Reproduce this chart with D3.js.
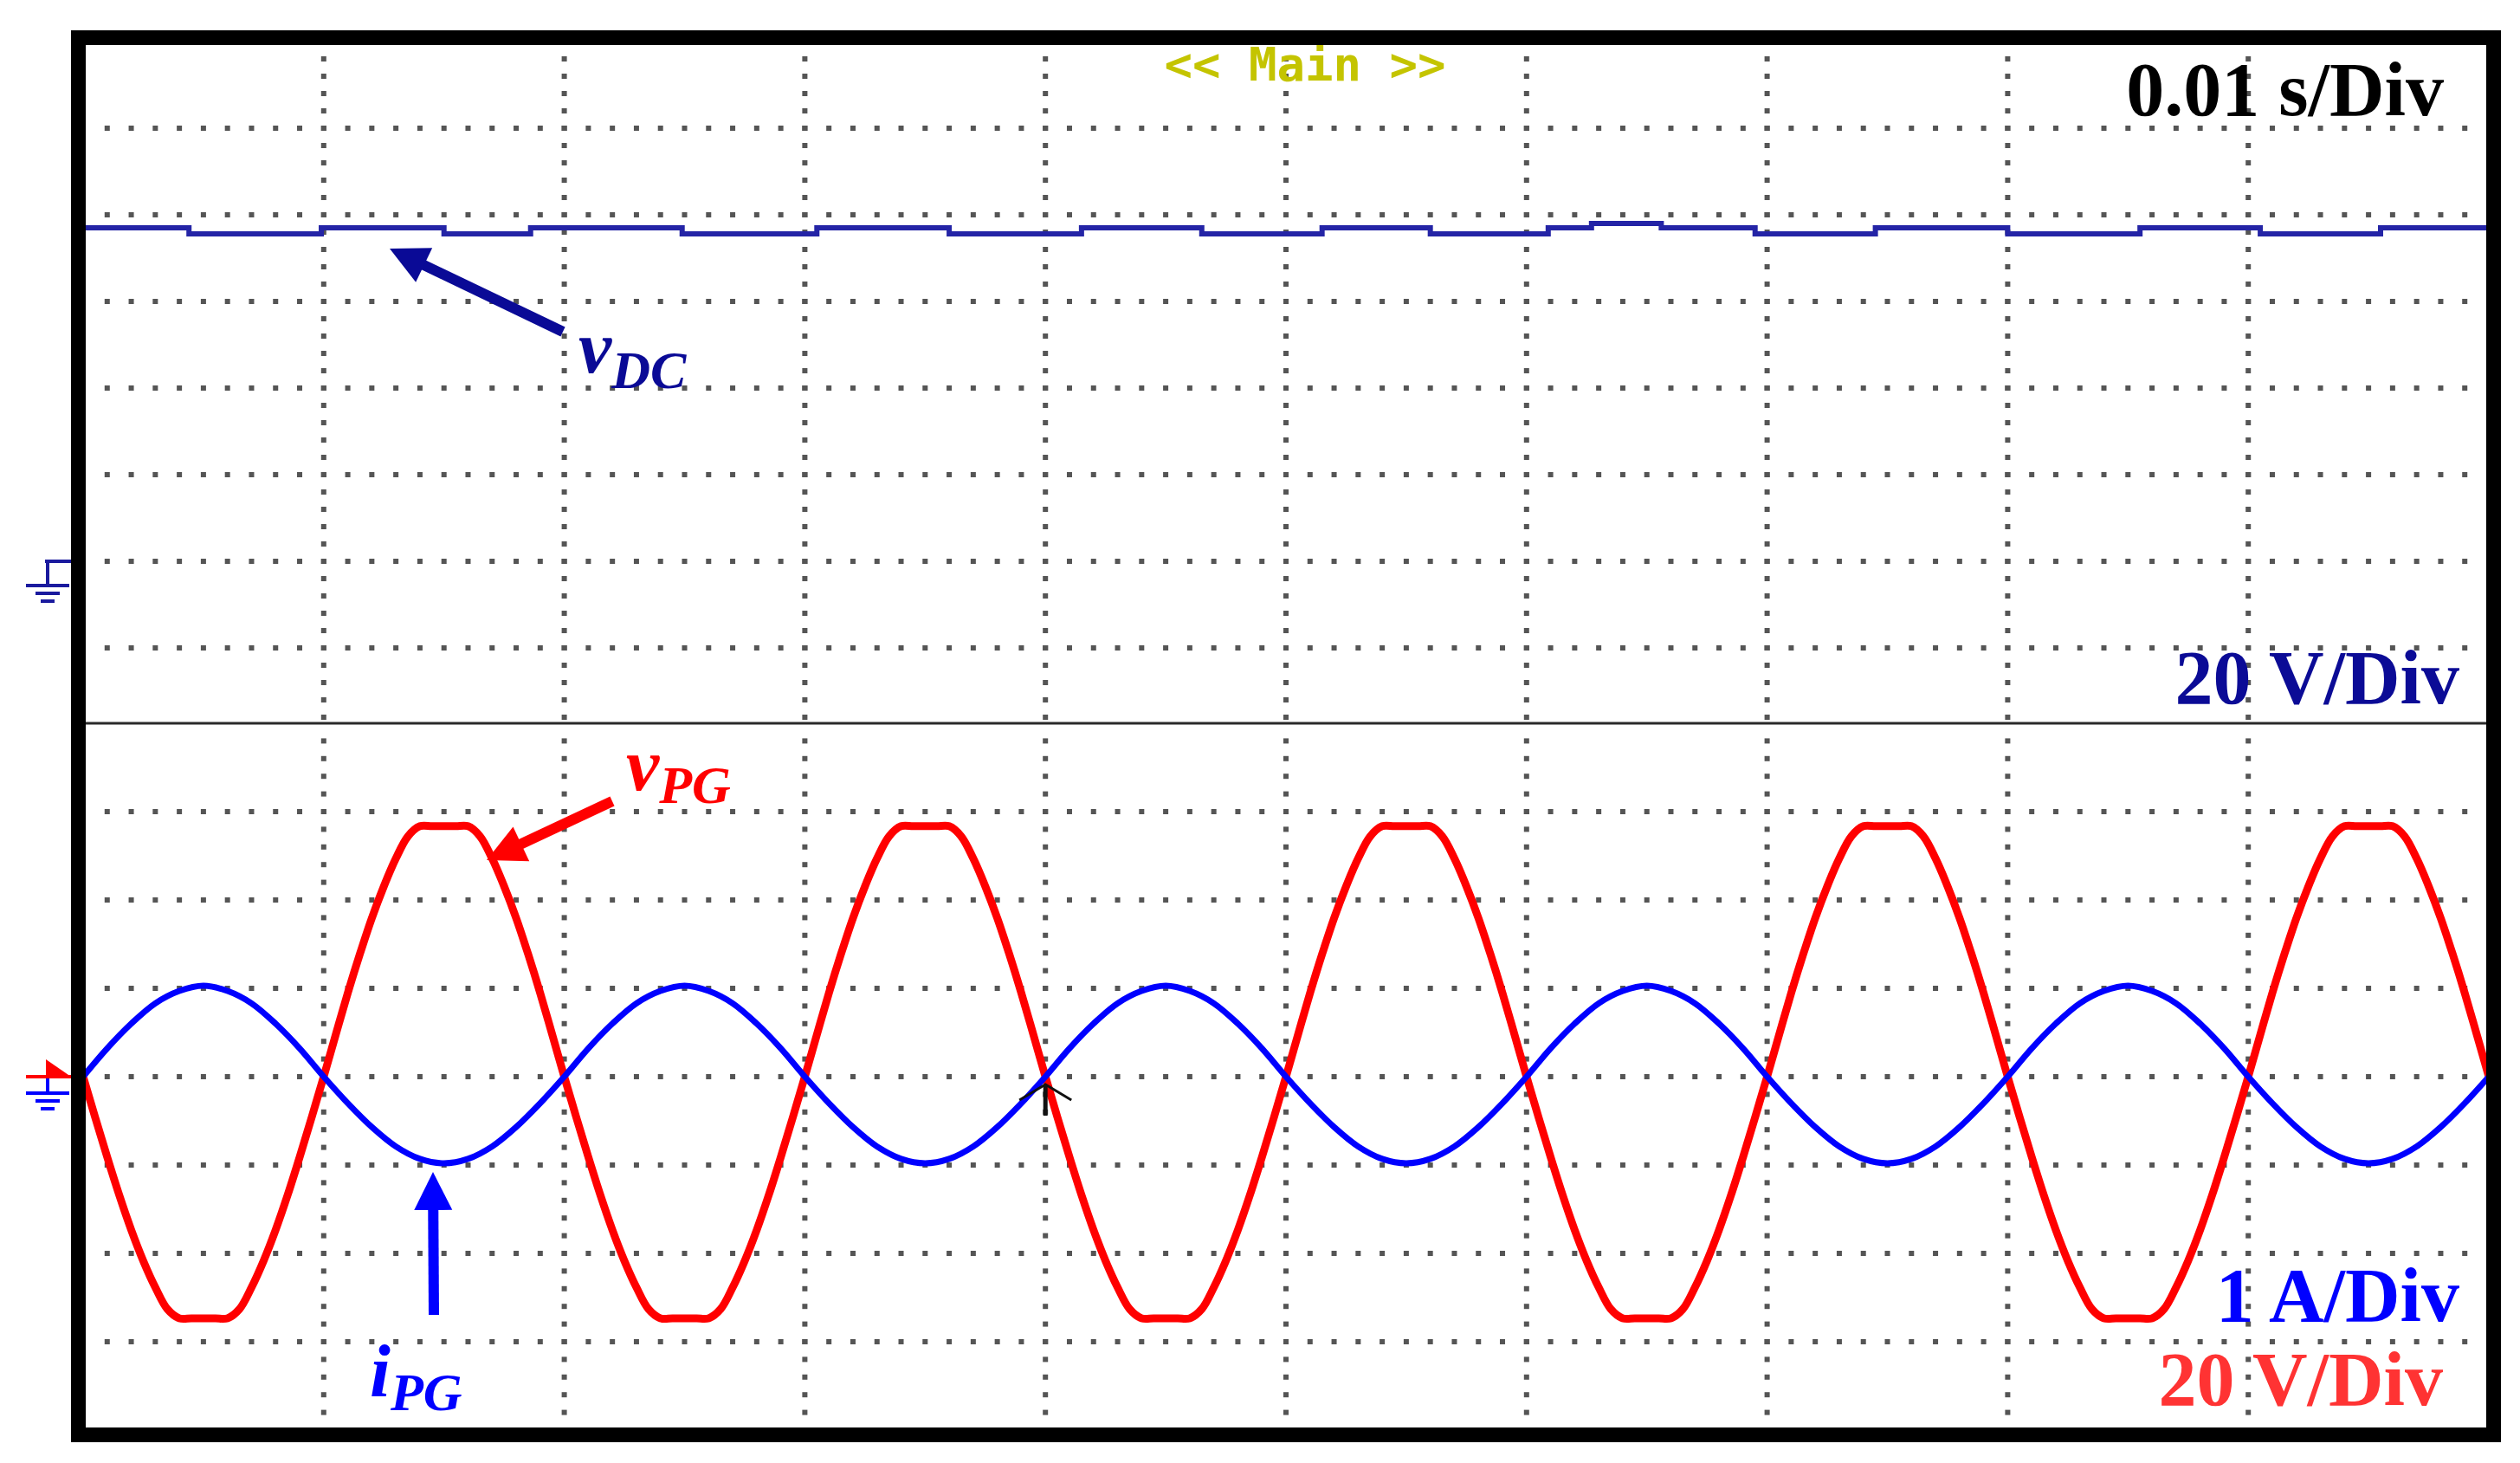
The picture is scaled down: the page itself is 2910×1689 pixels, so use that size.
<!DOCTYPE html>
<html lang="en">
<head>
<meta charset="UTF-8">
<title>vDC / vPG / iPG scope capture</title>
<script src="https://d3js.org/d3.v7.min.js"></script>
<style>
  body { margin: 0; background: #fff; }
  .dot { fill: #555; }
  .lbl { font-family: "Liberation Serif", "Times New Roman", serif; font-weight: bold; }
  .sig { font-family: "Liberation Serif", "Times New Roman", serif; font-weight: bold; font-style: italic; }
</style>
</head>
<body>
<div id="chart"></div>
<script>
// ---- data (read off the scope capture) ----
// time base 0.01 s/div, 10 divisions
const timeDivs = [0, 1, 2, 3, 4, 5, 6, 7, 8, 9, 10];
// top window grid rows (V, 20 V/div) and bottom window rows (div)
const topRows = [-20, 0, 20, 40, 60, 80, 100, 120];
const botRows = [-4, -3, -2, -1, 0, 1, 2, 3, 4];

// vDC: stepped trace, step instants in ms and level in V
const vdcTimes  = [0, 4.4, 9.9, 15.0, 18.6, 24.9, 30.5, 36.0, 41.5, 46.5, 51.5, 56.0, 60.9, 62.7, 65.6, 69.5, 74.5, 80.0, 85.5, 90.5, 95.5, 100];
const vdcValues = [77.0, 75.6, 77.0, 75.6, 77.0, 75.6, 77.0, 75.6, 77.0, 75.6, 77.0, 75.6, 77.0, 78.0, 77.0, 75.6, 77.0, 75.6, 77.0, 75.6, 77.0, 77.0];

// iPG in A, sampled every 1 ms from 0 to 100 ms
const ipgValues = [
  0, 0.32, 0.60, 0.83, 0.97, 1.03, 0.97, 0.83, 0.60, 0.32,
  0, -0.30, -0.57, -0.79, -0.93, -0.98, -0.93, -0.79, -0.57, -0.30,
  0, 0.32, 0.60, 0.83, 0.97, 1.03, 0.97, 0.83, 0.60, 0.32,
  0, -0.30, -0.57, -0.79, -0.93, -0.98, -0.93, -0.79, -0.57, -0.30,
  0, 0.32, 0.60, 0.83, 0.97, 1.03, 0.97, 0.83, 0.60, 0.32,
  0, -0.30, -0.57, -0.79, -0.93, -0.98, -0.93, -0.79, -0.57, -0.30,
  0, 0.32, 0.60, 0.83, 0.97, 1.03, 0.97, 0.83, 0.60, 0.32,
  0, -0.30, -0.57, -0.79, -0.93, -0.98, -0.93, -0.79, -0.57, -0.30,
  0, 0.32, 0.60, 0.83, 0.97, 1.03, 0.97, 0.83, 0.60, 0.32,
  0, -0.30, -0.57, -0.79, -0.93, -0.98, -0.93, -0.79, -0.57, -0.30,
  0
];

// vPG in V, sampled every 0.5 ms from 0 to 100 ms
const vpgValues = [
  0, -9.2, -18.2, -26.8, -34.7, -41.7, -47.7, -52.6, -54.7, -54.7, -54.7, -54.7, -54.7, -52.6, -47.7, -41.7, -34.7, -26.8, -18.2, -9.2,
  0, 9.5, 18.9, 27.7, 35.9, 43.1, 49.4, 54.4, 56.7, 56.7, 56.7, 56.7, 56.7, 54.4, 49.4, 43.1, 35.9, 27.7, 18.9, 9.5,
  0, -9.2, -18.2, -26.8, -34.7, -41.7, -47.7, -52.6, -54.7, -54.7, -54.7, -54.7, -54.7, -52.6, -47.7, -41.7, -34.7, -26.8, -18.2, -9.2,
  0, 9.5, 18.9, 27.7, 35.9, 43.1, 49.4, 54.4, 56.7, 56.7, 56.7, 56.7, 56.7, 54.4, 49.4, 43.1, 35.9, 27.7, 18.9, 9.5,
  0, -9.2, -18.2, -26.8, -34.7, -41.7, -47.7, -52.6, -54.7, -54.7, -54.7, -54.7, -54.7, -52.6, -47.7, -41.7, -34.7, -26.8, -18.2, -9.2,
  0, 9.5, 18.9, 27.7, 35.9, 43.1, 49.4, 54.4, 56.7, 56.7, 56.7, 56.7, 56.7, 54.4, 49.4, 43.1, 35.9, 27.7, 18.9, 9.5,
  0, -9.2, -18.2, -26.8, -34.7, -41.7, -47.7, -52.6, -54.7, -54.7, -54.7, -54.7, -54.7, -52.6, -47.7, -41.7, -34.7, -26.8, -18.2, -9.2,
  0, 9.5, 18.9, 27.7, 35.9, 43.1, 49.4, 54.4, 56.7, 56.7, 56.7, 56.7, 56.7, 54.4, 49.4, 43.1, 35.9, 27.7, 18.9, 9.5,
  0, -9.2, -18.2, -26.8, -34.7, -41.7, -47.7, -52.6, -54.7, -54.7, -54.7, -54.7, -54.7, -52.6, -47.7, -41.7, -34.7, -26.8, -18.2, -9.2,
  0, 9.5, 18.9, 27.7, 35.9, 43.1, 49.4, 54.4, 56.7, 56.7, 56.7, 56.7, 56.7, 54.4, 49.4, 43.1, 35.9, 27.7, 18.9, 9.5,
  0
];

const scaleLabels = ["0.01 s/Div", "20 V/Div", "1 A/Div", "20 V/Div"];

// ---- layout ----
const W = 2910, H = 1689;
const inner = { x0: 98, x1: 2872, y0: 52, y1: 1648 };

const x = d3.scaleLinear().domain([0, 0.1]).range([96, 2874]);       // seconds
const yTop = d3.scaleLinear().domain([0, 20]).range([648, 548]);      // volts, 20 V/div
const yBot = d3.scaleLinear().domain([-4, 4]).range([1651, 835]);     // divisions
const dividerY = yBot(4);

const svg = d3.select("#chart").append("svg")
    .attr("width", W).attr("height", H);
svg.append("rect").attr("width", W).attr("height", H).attr("fill", "#fff");

svg.append("defs").append("clipPath").attr("id", "plot")
  .append("rect")
    .attr("x", inner.x0).attr("y", inner.y0)
    .attr("width", inner.x1 - inner.x0).attr("height", inner.y1 - inner.y0);

const g = svg.append("g").attr("clip-path", "url(#plot)");

// dotted graticule
const rowYs = topRows.map(v => yTop(v)).filter(y => y < dividerY - 10)
  .concat(botRows.map(d => yBot(d)).filter(y => y > dividerY + 10));
const rowDotXs = d3.range(0, 101).map(i => x(i * 0.001));
const colXs = timeDivs.map(d => x(d * 0.01));
const colDotYs = d3.range(-9, 31).map(i => yTop(i * 4)).filter(y => y < dividerY - 4)
  .concat(d3.range(-20, 20).map(i => yBot(i * 0.2)).filter(y => y > dividerY + 4));

const dots = [];
rowYs.forEach(yy => rowDotXs.forEach(xx => dots.push([xx, yy])));
colXs.forEach(xx => colDotYs.forEach(yy => dots.push([xx, yy])));
g.selectAll(".dot").data(dots).join("rect")
    .attr("class", "dot")
    .attr("x", d => d[0] - 3).attr("y", d => d[1] - 3)
    .attr("width", 6).attr("height", 6);

// window divider
g.append("line")
    .attr("x1", inner.x0).attr("x2", inner.x1)
    .attr("y1", dividerY).attr("y2", dividerY)
    .attr("stroke", "#2a2a2a").attr("stroke-width", 3);

// traces
const vdcData = vdcTimes.map((t, i) => [t / 1000, vdcValues[i]]);
g.append("path").datum(vdcData)
    .attr("fill", "none").attr("stroke", "#2424a6").attr("stroke-width", 6)
    .attr("d", d3.line().x(d => x(d[0])).y(d => yTop(d[1])).curve(d3.curveStepAfter));

const vpgData = vpgValues.map((v, i) => [i * 0.0005, v / 20]);
g.append("path").datum(vpgData)
    .attr("fill", "none").attr("stroke", "#ff0000").attr("stroke-width", 9)
    .attr("stroke-linejoin", "round")
    .attr("d", d3.line().x(d => x(d[0])).y(d => yBot(d[1])).curve(d3.curveCatmullRom));

const ipgData = ipgValues.map((v, i) => [i * 0.001, v]);
g.append("path").datum(ipgData)
    .attr("fill", "none").attr("stroke", "#0000ff").attr("stroke-width", 7)
    .attr("d", d3.line().x(d => x(d[0])).y(d => yBot(d[1])).curve(d3.curveCatmullRom));

// trigger cursor
const cx = x(0.04), cy = yBot(0) + 9;
g.append("path")
    .attr("d", `M${cx - 30},${cy + 18}L${cx},${cy}L${cx + 30},${cy + 18}`)
    .attr("fill", "none").attr("stroke", "#111").attr("stroke-width", 3);
g.append("line").attr("x1", cx).attr("x2", cx).attr("y1", cy).attr("y2", cy + 36)
    .attr("stroke", "#111").attr("stroke-width", 5);

// "<< Main >>"
svg.append("text")
    .attr("x", x(0.05) + 22).attr("y", 93)
    .attr("text-anchor", "middle")
    .attr("font-family", "'DejaVu Sans Mono', monospace")
    .attr("font-weight", "bold")
    .attr("font-size", 54).attr("fill", "#c4c400")
    .text("<< Main >>");

// frame
svg.append("rect")
    .attr("x", 90.5).attr("y", 43.5).attr("width", 2789).attr("height", 1613)
    .attr("fill", "none").attr("stroke", "#000").attr("stroke-width", 17);

// ground markers left of the frame
function groundSymbol(y0, color, stem) {
  svg.append("line").attr("x1", 55).attr("x2", 55).attr("y1", y0).attr("y2", y0 + stem)
      .attr("stroke", color).attr("stroke-width", 4);
  [[30, 80, 0], [41, 69, 9], [47, 63, 18]].forEach(b => {
    svg.append("line").attr("x1", b[0]).attr("x2", b[1])
        .attr("y1", y0 + stem + b[2]).attr("y2", y0 + stem + b[2])
        .attr("stroke", color).attr("stroke-width", 4);
  });
}
const gTop = yTop(0);
svg.append("line").attr("x1", 52).attr("x2", 82).attr("y1", gTop).attr("y2", gTop)
    .attr("stroke", "#1a1a9e").attr("stroke-width", 4);
groundSymbol(gTop, "#1a1a9e", 28);

const gBot = yBot(0);
svg.append("path")
    .attr("d", `M53,${gBot - 20}L53,${gBot}L82,${gBot}Z`).attr("fill", "#ff0000");
svg.append("line").attr("x1", 30).attr("x2", 82).attr("y1", gBot).attr("y2", gBot)
    .attr("stroke", "#ff0000").attr("stroke-width", 4);
groundSymbol(gBot + 2, "#0000ff", 17);

// scale labels
const scaleText = [
  { text: scaleLabels[0], x: 2822, y: 133, color: "#000" },
  { text: scaleLabels[1], x: 2840, y: 812, color: "#0b0b96" },
  { text: scaleLabels[2], x: 2840, y: 1525, color: "#0000ff" },
  { text: scaleLabels[3], x: 2821, y: 1622, color: "#ff3333" }
];
svg.selectAll(".lbl").data(scaleText).join("text")
    .attr("class", "lbl")
    .attr("x", d => d.x).attr("y", d => d.y)
    .attr("text-anchor", "end")
    .attr("font-size", 88)
    .attr("fill", d => d.color)
    .text(d => d.text);

// signal annotations: arrow tip / tail and label anchor in data units
const notes = [
  { main: "v", sub: "DC", color: "#0a0a96", y: yTop,
    tip: [0.012743, 72.2], tail: [0.019942, 53.0], label: [0.02059, 43.6], dy: 18 },
  { main: "v", sub: "PG", color: "#ff0000", y: yBot,
    tip: [0.016775, 2.451], tail: [0.021994, 3.118], label: [0.02257, 3.245], dy: 15 },
  { main: "i", sub: "PG", color: "#0000ff", y: yBot,
    tip: [0.014543, -1.078], tail: [0.014579, -2.696], label: [0.011915, -3.618], dy: 16 }
];

notes.forEach(n => {
  const tx = x(n.tip[0]), ty = n.y(n.tip[1]);
  const sx = x(n.tail[0]), sy = n.y(n.tail[1]);
  const len = Math.hypot(tx - sx, ty - sy);
  const ux = (tx - sx) / len, uy = (ty - sy) / len;
  const headL = 44, headW = 22;
  const bx = tx - ux * headL, by = ty - uy * headL;
  svg.append("line")
      .attr("x1", sx).attr("y1", sy).attr("x2", bx + ux * 4).attr("y2", by + uy * 4)
      .attr("stroke", n.color).attr("stroke-width", 12);
  svg.append("path")
      .attr("d", `M${tx},${ty}L${bx - uy * headW},${by + ux * headW}L${bx + uy * headW},${by - ux * headW}Z`)
      .attr("fill", n.color);

  const t = svg.append("text").attr("class", "sig")
      .attr("x", x(n.label[0])).attr("y", n.y(n.label[1]))
      .attr("fill", n.color);
  t.append("tspan").attr("font-size", 86).text(n.main);
  t.append("tspan").attr("font-size", 62).attr("dy", n.dy).text(n.sub);
});
</script>
</body>
</html>
